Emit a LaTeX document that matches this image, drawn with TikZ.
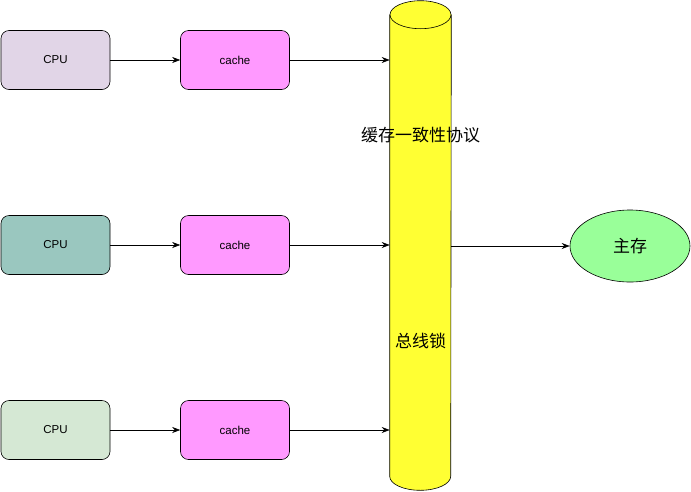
\documentclass[tikz,border=0pt]{standalone}
\usepackage{fontspec}
\setmainfont{Liberation Sans}
\newfontfamily\cjk{Noto Sans CJK SC}
\usetikzlibrary{arrows.meta, shapes.geometric}

\definecolor{cpuA}{HTML}{E1D5E7}
\definecolor{cpuB}{HTML}{9AC7BF}
\definecolor{cpuC}{HTML}{D5E8D4}
\definecolor{cachefill}{HTML}{FF99FF}
\definecolor{busfill}{HTML}{FFFF33}
\definecolor{memfill}{HTML}{99FF99}

\begin{document}
\begin{tikzpicture}[x=1pt, y=-1pt, >={Stealth[length=8pt,width=6pt]}, line width=0.6pt,
  box/.style={draw, rounded corners=8pt, minimum width=109pt, minimum height=59pt,
    font=\fontsize{11.5}{13}\selectfont},
  cjklabel/.style={font=\cjk\fontsize{17}{20}\selectfont}]
  \useasboundingbox (0,0) rectangle (691,491);
  % ===== CPU and cache =====
  \node[box, fill=cpuA] (cpu1) at (55.5,60) {CPU};
  \node[box, fill=cpuB] (cpu2) at (55.5,245) {CPU};
  \node[box, fill=cpuC] (cpu3) at (55.5,430) {CPU};
  \node[box, fill=cachefill] (cache1) at (235,60) {cache};
  \node[box, fill=cachefill] (cache2) at (235,245) {cache};
  \node[box, fill=cachefill] (cache3) at (235,430) {cache};
  % ===== Bus (cylinder) =====
  \node[minimum width=61pt, minimum height=461pt, inner sep=0pt] (bus) at (420.5,245.5) {};
  \fill[busfill] (bus.north west) -- (bus.south west)
    arc[start angle=180, end angle=360, x radius=30.5pt, y radius=14pt]
    -- (bus.north east) -- cycle;
  \fill[busfill] (bus.north) ellipse[x radius=30.5pt, y radius=14pt];
  \draw (bus.north west) -- (bus.south west)
    arc[start angle=180, end angle=360, x radius=30.5pt, y radius=14pt]
    -- (bus.north east);
  \draw (bus.north) ellipse[x radius=30.5pt, y radius=14pt];
  \node[cjklabel] (coherence) at (420.5,135) {缓存一致性协议};
  \node[cjklabel] (buslock) at (420.5,341) {总线锁};
  % ===== Main memory =====
  \node[draw, ellipse, fill=memfill, minimum width=120pt, minimum height=72pt, inner sep=0pt,
    cjklabel] (mem) at (630,246) {主存};
  % ===== Connectors =====
  \draw[->] (cpu1) -- (cache1);
  \draw[->] (cpu2) -- (cache2);
  \draw[->] (cpu3) -- (cache3);
  \draw[->] (cache1.east) -- (bus.west |- cache1.east);
  \draw[->] (cache2.east) -- (bus.west |- cache2.east);
  \draw[->] (cache3.east) -- (bus.west |- cache3.east);
  \draw[->] (bus.east |- mem.west) -- (mem.west);
\end{tikzpicture}
\end{document}
